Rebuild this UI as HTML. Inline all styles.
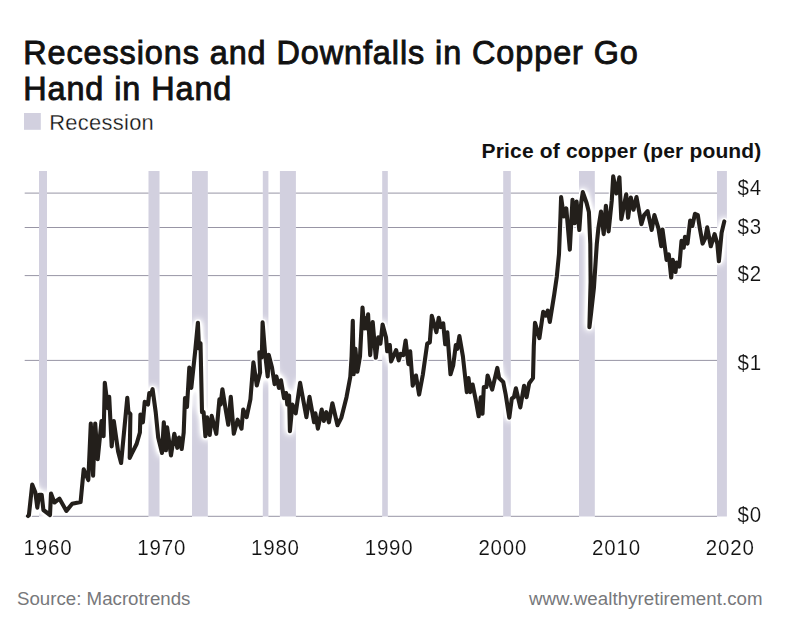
<!DOCTYPE html>
<html><head><meta charset="utf-8">
<style>
html,body{margin:0;padding:0;background:#fff;}
body{width:802px;height:628px;position:relative;overflow:hidden;font-family:"Liberation Sans",sans-serif;color:#111;}
.t{position:absolute;white-space:nowrap;line-height:1;}
svg{position:absolute;left:0;top:0;}
.ti{font-size:32.4px;font-weight:normal;-webkit-text-stroke:0.9px #111;letter-spacing:0.92px;}
.xl{font-size:20.5px;letter-spacing:0.8px;-webkit-text-stroke:0.15px #fff;transform:scaleY(1.05);transform-origin:0 84.65%;}
.yl{letter-spacing:0.7px;-webkit-text-stroke:0.15px #fff;transform:scaleY(1.05);transform-origin:0 84.65%;}
</style></head><body>
<svg width="802" height="628" viewBox="0 0 802 628">
<rect x="39" y="171" width="8.0" height="345.5" fill="#d2d0df"/>
<rect x="148.5" y="171" width="11.0" height="345.5" fill="#d2d0df"/>
<rect x="192" y="171" width="15.8" height="345.5" fill="#d2d0df"/>
<rect x="262.8" y="171" width="5.6" height="345.5" fill="#d2d0df"/>
<rect x="279.9" y="171" width="16.0" height="345.5" fill="#d2d0df"/>
<rect x="382.2" y="171" width="5.6" height="345.5" fill="#d2d0df"/>
<rect x="503.2" y="171" width="7.6" height="345.5" fill="#d2d0df"/>
<rect x="579" y="171" width="15.8" height="345.5" fill="#d2d0df"/>
<rect x="717" y="171" width="9.9" height="345.5" fill="#d2d0df"/>
<rect x="24" y="113" width="16.8" height="16.8" fill="#d2d0df"/>
<defs><filter id="glow" x="-5%" y="-5%" width="110%" height="110%" filterUnits="objectBoundingBox">
<feGaussianBlur stdDeviation="3.9"/>
<feComponentTransfer><feFuncA type="linear" slope="3.0" intercept="0"/></feComponentTransfer>
</filter></defs>
<path d="M28.0,516.0 L28.9,515.2 L32.2,484.6 L35.3,492.3 L37.3,507.6 L39.1,494.8 L41.7,494.8 L43.4,510.0 L50.0,515.0 L51.0,493.6 L54.4,502.5 L59.5,498.7 L66.4,510.9 L72.2,503.8 L80.6,502.0 L83.7,469.4 L88.3,480.0 L90.8,423.5 L93.1,475.7 L95.2,423.5 L97.7,459.2 L101.5,421.0 L103.6,436.2 L104.8,382.7 L107.9,408.2 L109.2,396.8 L111.7,446.4 L113.8,421.0 L118.1,451.5 L121.1,463.0 L127.3,397.8 L128.4,412.0 L130.4,414.0 L129.7,458.0 L131.5,454.1 L136.6,444.0 L139.9,432.5 L140.4,414.6 L142.9,422.3 L144.7,401.9 L148.0,404.5 L149.3,393.0 L151.1,394.3 L152.6,389.2 L155.7,412.1 L158.2,437.6 L162.0,452.9 L163.8,422.3 L165.9,450.3 L167.1,427.4 L171.0,455.4 L174.3,433.8 L177.3,447.8 L179.1,437.6 L181.7,449.0 L183.7,432.5 L185.0,398.1 L187.0,407.0 L189.3,367.5 L191.3,387.9 L195.2,351.0 L197.9,322.7 L199.0,348.4 L200.5,343.3 L202.0,412.1 L203.6,412.1 L205.4,436.3 L207.1,417.2 L209.7,435.0 L211.7,415.9 L216.3,433.8 L219.4,399.4 L220.6,404.5 L222.4,389.2 L225.7,409.6 L228.3,424.8 L230.8,396.8 L233.8,433.8 L237.6,419.7 L241.5,428.7 L243.2,409.6 L246.6,417.2 L250.4,399.4 L253.4,362.4 L256.8,385.4 L260.1,372.6 L259.3,352.2 L261.8,357.3 L262.6,322.4 L265.2,354.8 L267.7,376.4 L268.7,354.8 L272.0,367.5 L274.6,384.1 L276.4,376.4 L278.9,387.9 L281.0,380.3 L284.0,398.1 L286.1,393.0 L287.3,404.5 L289.1,395.5 L289.9,431.2 L292.4,404.5 L295.7,413.4 L300.1,382.8 L306.4,417.2 L309.5,396.8 L314.1,422.3 L315.4,413.4 L317.9,428.7 L321.7,409.6 L323.8,421.0 L326.3,412.1 L328.9,422.3 L332.4,403.2 L337.5,425.2 L341.4,417.6 L346.5,397.2 L350.3,376.8 L351.6,356.4 L352.8,320.8 L353.6,374.3 L355.4,348.8 L357.4,371.7 L360.0,356.4 L362.5,307.5 L364.3,328.4 L365.6,318.2 L366.8,328.4 L368.1,314.4 L370.2,355.2 L372.7,322.0 L375.8,357.7 L378.3,337.3 L380.4,343.7 L382.6,324.6 L386.0,337.3 L387.2,351.3 L389.8,345.0 L391.1,361.5 L396.1,350.1 L398.7,360.3 L400.7,353.9 L403.3,355.2 L405.6,340.6 L408.4,364.1 L410.2,351.3 L412.7,385.7 L416.0,375.5 L419.1,394.6 L422.9,374.3 L427.2,343.7 L429.8,342.4 L431.8,315.7 L436.4,332.2 L438.7,317.7 L440.7,327.1 L443.2,323.3 L445.2,344.3 L447.3,332.2 L450.5,374.3 L453.2,365.4 L455.8,345.0 L457.3,348.8 L459.4,336.1 L462.9,356.4 L466.8,392.1 L468.5,378.1 L470.1,392.1 L472.6,384.5 L475.7,399.7 L478.7,416.3 L480.8,397.2 L482.5,413.8 L483.8,387.0 L486.4,387.0 L487.6,375.5 L492.2,389.6 L497.3,367.9 L499.1,378.1 L503.2,381.9 L505.7,394.6 L509.3,417.6 L511.8,398.5 L513.9,397.2 L515.9,388.3 L520.3,407.4 L524.1,385.7 L526.6,397.2 L529.2,383.2 L533.0,378.1 L533.8,346.2 L535.0,322.8 L539.4,338.1 L543.2,311.8 L545.7,315.7 L547.8,310.6 L549.8,322.0 L554.2,294.6 L556.8,276.8 L559.0,254.0 L560.4,218.0 L561.1,197.0 L563.8,216.5 L566.3,208.4 L569.8,249.6 L572.5,199.7 L574.7,223.3 L576.6,201.6 L579.3,230.0 L581.2,202.9 L582.8,192.1 L586.6,203.0 L588.9,212.0 L590.3,244.0 L590.6,282.0 L589.4,327.3 L591.0,314.0 L593.9,288.0 L596.8,244.0 L598.4,228.0 L601.0,211.6 L603.7,234.1 L605.9,205.7 L608.6,231.4 L611.8,200.2 L613.2,176.4 L616.4,193.5 L619.4,177.2 L621.3,219.2 L626.2,194.3 L628.1,217.8 L630.8,197.5 L633.5,209.7 L636.5,197.0 L641.4,224.1 L644.1,215.1 L647.6,211.1 L651.7,230.0 L654.4,215.1 L658.5,228.7 L661.2,246.3 L662.5,229.5 L666.6,259.9 L668.8,254.4 L671.2,277.5 L672.8,259.9 L675.5,272.0 L676.6,262.6 L679.3,266.6 L681.5,240.9 L683.7,247.7 L685.0,236.8 L687.5,243.6 L690.2,220.6 L692.3,226.0 L695.0,213.8 L697.8,215.1 L699.9,228.7 L702.6,243.6 L705.3,238.2 L707.2,227.3 L710.8,246.3 L714.6,234.1 L717.3,243.6 L718.9,261.2 L721.6,232.8 L724.3,221.4" fill="none" stroke="#ffffff" stroke-width="5" stroke-linejoin="round" stroke-linecap="round" filter="url(#glow)"/>
<path d="M24.7,193.1H39.0 M47.0,193.1H148.5 M159.5,193.1H192.0 M207.8,193.1H262.8 M268.4,193.1H279.9 M295.9,193.1H382.2 M387.8,193.1H503.2 M510.8,193.1H579.0 M594.8,193.1H717.0" stroke="#9895a5" stroke-width="1" fill="none"/>
<path d="M24.7,227.5H39.0 M47.0,227.5H148.5 M159.5,227.5H192.0 M207.8,227.5H262.8 M268.4,227.5H279.9 M295.9,227.5H382.2 M387.8,227.5H503.2 M510.8,227.5H579.0 M594.8,227.5H717.0" stroke="#9895a5" stroke-width="1" fill="none"/>
<path d="M24.7,275.6H39.0 M47.0,275.6H148.5 M159.5,275.6H192.0 M207.8,275.6H262.8 M268.4,275.6H279.9 M295.9,275.6H382.2 M387.8,275.6H503.2 M510.8,275.6H579.0 M594.8,275.6H717.0" stroke="#9895a5" stroke-width="1" fill="none"/>
<path d="M24.7,360.4H39.0 M47.0,360.4H148.5 M159.5,360.4H192.0 M207.8,360.4H262.8 M268.4,360.4H279.9 M295.9,360.4H382.2 M387.8,360.4H503.2 M510.8,360.4H579.0 M594.8,360.4H717.0" stroke="#9895a5" stroke-width="1" fill="none"/>
<path d="M24.7,516.3H39.0 M47.0,516.3H148.5 M159.5,516.3H192.0 M207.8,516.3H262.8 M268.4,516.3H279.9 M295.9,516.3H382.2 M387.8,516.3H503.2 M510.8,516.3H579.0 M594.8,516.3H717.0" stroke="#9895a5" stroke-width="1" fill="none"/>

<path d="M28.0,516.0 L28.9,515.2 L32.2,484.6 L35.3,492.3 L37.3,507.6 L39.1,494.8 L41.7,494.8 L43.4,510.0 L50.0,515.0 L51.0,493.6 L54.4,502.5 L59.5,498.7 L66.4,510.9 L72.2,503.8 L80.6,502.0 L83.7,469.4 L88.3,480.0 L90.8,423.5 L93.1,475.7 L95.2,423.5 L97.7,459.2 L101.5,421.0 L103.6,436.2 L104.8,382.7 L107.9,408.2 L109.2,396.8 L111.7,446.4 L113.8,421.0 L118.1,451.5 L121.1,463.0 L127.3,397.8 L128.4,412.0 L130.4,414.0 L129.7,458.0 L131.5,454.1 L136.6,444.0 L139.9,432.5 L140.4,414.6 L142.9,422.3 L144.7,401.9 L148.0,404.5 L149.3,393.0 L151.1,394.3 L152.6,389.2 L155.7,412.1 L158.2,437.6 L162.0,452.9 L163.8,422.3 L165.9,450.3 L167.1,427.4 L171.0,455.4 L174.3,433.8 L177.3,447.8 L179.1,437.6 L181.7,449.0 L183.7,432.5 L185.0,398.1 L187.0,407.0 L189.3,367.5 L191.3,387.9 L195.2,351.0 L197.9,322.7 L199.0,348.4 L200.5,343.3 L202.0,412.1 L203.6,412.1 L205.4,436.3 L207.1,417.2 L209.7,435.0 L211.7,415.9 L216.3,433.8 L219.4,399.4 L220.6,404.5 L222.4,389.2 L225.7,409.6 L228.3,424.8 L230.8,396.8 L233.8,433.8 L237.6,419.7 L241.5,428.7 L243.2,409.6 L246.6,417.2 L250.4,399.4 L253.4,362.4 L256.8,385.4 L260.1,372.6 L259.3,352.2 L261.8,357.3 L262.6,322.4 L265.2,354.8 L267.7,376.4 L268.7,354.8 L272.0,367.5 L274.6,384.1 L276.4,376.4 L278.9,387.9 L281.0,380.3 L284.0,398.1 L286.1,393.0 L287.3,404.5 L289.1,395.5 L289.9,431.2 L292.4,404.5 L295.7,413.4 L300.1,382.8 L306.4,417.2 L309.5,396.8 L314.1,422.3 L315.4,413.4 L317.9,428.7 L321.7,409.6 L323.8,421.0 L326.3,412.1 L328.9,422.3 L332.4,403.2 L337.5,425.2 L341.4,417.6 L346.5,397.2 L350.3,376.8 L351.6,356.4 L352.8,320.8 L353.6,374.3 L355.4,348.8 L357.4,371.7 L360.0,356.4 L362.5,307.5 L364.3,328.4 L365.6,318.2 L366.8,328.4 L368.1,314.4 L370.2,355.2 L372.7,322.0 L375.8,357.7 L378.3,337.3 L380.4,343.7 L382.6,324.6 L386.0,337.3 L387.2,351.3 L389.8,345.0 L391.1,361.5 L396.1,350.1 L398.7,360.3 L400.7,353.9 L403.3,355.2 L405.6,340.6 L408.4,364.1 L410.2,351.3 L412.7,385.7 L416.0,375.5 L419.1,394.6 L422.9,374.3 L427.2,343.7 L429.8,342.4 L431.8,315.7 L436.4,332.2 L438.7,317.7 L440.7,327.1 L443.2,323.3 L445.2,344.3 L447.3,332.2 L450.5,374.3 L453.2,365.4 L455.8,345.0 L457.3,348.8 L459.4,336.1 L462.9,356.4 L466.8,392.1 L468.5,378.1 L470.1,392.1 L472.6,384.5 L475.7,399.7 L478.7,416.3 L480.8,397.2 L482.5,413.8 L483.8,387.0 L486.4,387.0 L487.6,375.5 L492.2,389.6 L497.3,367.9 L499.1,378.1 L503.2,381.9 L505.7,394.6 L509.3,417.6 L511.8,398.5 L513.9,397.2 L515.9,388.3 L520.3,407.4 L524.1,385.7 L526.6,397.2 L529.2,383.2 L533.0,378.1 L533.8,346.2 L535.0,322.8 L539.4,338.1 L543.2,311.8 L545.7,315.7 L547.8,310.6 L549.8,322.0 L554.2,294.6 L556.8,276.8 L559.0,254.0 L560.4,218.0 L561.1,197.0 L563.8,216.5 L566.3,208.4 L569.8,249.6 L572.5,199.7 L574.7,223.3 L576.6,201.6 L579.3,230.0 L581.2,202.9 L582.8,192.1 L586.6,203.0 L588.9,212.0 L590.3,244.0 L590.6,282.0 L589.4,327.3 L591.0,314.0 L593.9,288.0 L596.8,244.0 L598.4,228.0 L601.0,211.6 L603.7,234.1 L605.9,205.7 L608.6,231.4 L611.8,200.2 L613.2,176.4 L616.4,193.5 L619.4,177.2 L621.3,219.2 L626.2,194.3 L628.1,217.8 L630.8,197.5 L633.5,209.7 L636.5,197.0 L641.4,224.1 L644.1,215.1 L647.6,211.1 L651.7,230.0 L654.4,215.1 L658.5,228.7 L661.2,246.3 L662.5,229.5 L666.6,259.9 L668.8,254.4 L671.2,277.5 L672.8,259.9 L675.5,272.0 L676.6,262.6 L679.3,266.6 L681.5,240.9 L683.7,247.7 L685.0,236.8 L687.5,243.6 L690.2,220.6 L692.3,226.0 L695.0,213.8 L697.8,215.1 L699.9,228.7 L702.6,243.6 L705.3,238.2 L707.2,227.3 L710.8,246.3 L714.6,234.1 L717.3,243.6 L718.9,261.2 L721.6,232.8 L724.3,221.4" fill="none" stroke="#ffffff" stroke-width="6.9" stroke-linejoin="round" stroke-linecap="round" opacity="0.85"/>
<path d="M28.0,516.0 L28.9,515.2 L32.2,484.6 L35.3,492.3 L37.3,507.6 L39.1,494.8 L41.7,494.8 L43.4,510.0 L50.0,515.0 L51.0,493.6 L54.4,502.5 L59.5,498.7 L66.4,510.9 L72.2,503.8 L80.6,502.0 L83.7,469.4 L88.3,480.0 L90.8,423.5 L93.1,475.7 L95.2,423.5 L97.7,459.2 L101.5,421.0 L103.6,436.2 L104.8,382.7 L107.9,408.2 L109.2,396.8 L111.7,446.4 L113.8,421.0 L118.1,451.5 L121.1,463.0 L127.3,397.8 L128.4,412.0 L130.4,414.0 L129.7,458.0 L131.5,454.1 L136.6,444.0 L139.9,432.5 L140.4,414.6 L142.9,422.3 L144.7,401.9 L148.0,404.5 L149.3,393.0 L151.1,394.3 L152.6,389.2 L155.7,412.1 L158.2,437.6 L162.0,452.9 L163.8,422.3 L165.9,450.3 L167.1,427.4 L171.0,455.4 L174.3,433.8 L177.3,447.8 L179.1,437.6 L181.7,449.0 L183.7,432.5 L185.0,398.1 L187.0,407.0 L189.3,367.5 L191.3,387.9 L195.2,351.0 L197.9,322.7 L199.0,348.4 L200.5,343.3 L202.0,412.1 L203.6,412.1 L205.4,436.3 L207.1,417.2 L209.7,435.0 L211.7,415.9 L216.3,433.8 L219.4,399.4 L220.6,404.5 L222.4,389.2 L225.7,409.6 L228.3,424.8 L230.8,396.8 L233.8,433.8 L237.6,419.7 L241.5,428.7 L243.2,409.6 L246.6,417.2 L250.4,399.4 L253.4,362.4 L256.8,385.4 L260.1,372.6 L259.3,352.2 L261.8,357.3 L262.6,322.4 L265.2,354.8 L267.7,376.4 L268.7,354.8 L272.0,367.5 L274.6,384.1 L276.4,376.4 L278.9,387.9 L281.0,380.3 L284.0,398.1 L286.1,393.0 L287.3,404.5 L289.1,395.5 L289.9,431.2 L292.4,404.5 L295.7,413.4 L300.1,382.8 L306.4,417.2 L309.5,396.8 L314.1,422.3 L315.4,413.4 L317.9,428.7 L321.7,409.6 L323.8,421.0 L326.3,412.1 L328.9,422.3 L332.4,403.2 L337.5,425.2 L341.4,417.6 L346.5,397.2 L350.3,376.8 L351.6,356.4 L352.8,320.8 L353.6,374.3 L355.4,348.8 L357.4,371.7 L360.0,356.4 L362.5,307.5 L364.3,328.4 L365.6,318.2 L366.8,328.4 L368.1,314.4 L370.2,355.2 L372.7,322.0 L375.8,357.7 L378.3,337.3 L380.4,343.7 L382.6,324.6 L386.0,337.3 L387.2,351.3 L389.8,345.0 L391.1,361.5 L396.1,350.1 L398.7,360.3 L400.7,353.9 L403.3,355.2 L405.6,340.6 L408.4,364.1 L410.2,351.3 L412.7,385.7 L416.0,375.5 L419.1,394.6 L422.9,374.3 L427.2,343.7 L429.8,342.4 L431.8,315.7 L436.4,332.2 L438.7,317.7 L440.7,327.1 L443.2,323.3 L445.2,344.3 L447.3,332.2 L450.5,374.3 L453.2,365.4 L455.8,345.0 L457.3,348.8 L459.4,336.1 L462.9,356.4 L466.8,392.1 L468.5,378.1 L470.1,392.1 L472.6,384.5 L475.7,399.7 L478.7,416.3 L480.8,397.2 L482.5,413.8 L483.8,387.0 L486.4,387.0 L487.6,375.5 L492.2,389.6 L497.3,367.9 L499.1,378.1 L503.2,381.9 L505.7,394.6 L509.3,417.6 L511.8,398.5 L513.9,397.2 L515.9,388.3 L520.3,407.4 L524.1,385.7 L526.6,397.2 L529.2,383.2 L533.0,378.1 L533.8,346.2 L535.0,322.8 L539.4,338.1 L543.2,311.8 L545.7,315.7 L547.8,310.6 L549.8,322.0 L554.2,294.6 L556.8,276.8 L559.0,254.0 L560.4,218.0 L561.1,197.0 L563.8,216.5 L566.3,208.4 L569.8,249.6 L572.5,199.7 L574.7,223.3 L576.6,201.6 L579.3,230.0 L581.2,202.9 L582.8,192.1 L586.6,203.0 L588.9,212.0 L590.3,244.0 L590.6,282.0 L589.4,327.3 L591.0,314.0 L593.9,288.0 L596.8,244.0 L598.4,228.0 L601.0,211.6 L603.7,234.1 L605.9,205.7 L608.6,231.4 L611.8,200.2 L613.2,176.4 L616.4,193.5 L619.4,177.2 L621.3,219.2 L626.2,194.3 L628.1,217.8 L630.8,197.5 L633.5,209.7 L636.5,197.0 L641.4,224.1 L644.1,215.1 L647.6,211.1 L651.7,230.0 L654.4,215.1 L658.5,228.7 L661.2,246.3 L662.5,229.5 L666.6,259.9 L668.8,254.4 L671.2,277.5 L672.8,259.9 L675.5,272.0 L676.6,262.6 L679.3,266.6 L681.5,240.9 L683.7,247.7 L685.0,236.8 L687.5,243.6 L690.2,220.6 L692.3,226.0 L695.0,213.8 L697.8,215.1 L699.9,228.7 L702.6,243.6 L705.3,238.2 L707.2,227.3 L710.8,246.3 L714.6,234.1 L717.3,243.6 L718.9,261.2 L721.6,232.8 L724.3,221.4" fill="none" stroke="#231f1b" stroke-width="4.1" stroke-linejoin="round" stroke-linecap="round"/>
</svg>
<div class="t ti" id="t1" style="left:23.2px;top:37.3px;">Recessions and Downfalls in Copper Go</div>
<div class="t ti" id="t2" style="left:23.2px;top:72.7px;">Hand in Hand</div>
<div class="t" id="lg" style="left:49.2px;top:112.0px;-webkit-text-stroke:0.28px #fff;font-size:21.9px;letter-spacing:0.3px;">Recession</div>
<div class="t" id="pr" style="left:481.6px;top:139.7px;font-size:21px;font-weight:bold;letter-spacing:0.17px;">Price of copper (per pound)</div>
<div class="t yl" id="y4" style="left:737.6px;top:177.75px;font-size:20.5px;">$4</div>
<div class="t yl" id="y3" style="left:737.6px;top:217.05px;font-size:20.5px;">$3</div>
<div class="t yl" id="y2" style="left:737.6px;top:263.85px;font-size:20.5px;">$2</div>
<div class="t yl" id="y1" style="left:737.6px;top:352.65px;font-size:20.5px;">$1</div>
<div class="t yl" id="y0" style="left:737.6px;top:505.05px;font-size:20.5px;">$0</div>
<div class="t xl" id="x0" style="left:23.6px;top:537.85px;">1960</div>
<div class="t xl" id="x1" style="left:137.3px;top:537.85px;">1970</div>
<div class="t xl" id="x2" style="left:251.0px;top:537.85px;">1980</div>
<div class="t xl" id="x3" style="left:364.7px;top:537.85px;">1990</div>
<div class="t xl" id="x4" style="left:478.4px;top:537.85px;">2000</div>
<div class="t xl" id="x5" style="left:592.1px;top:537.85px;">2010</div>
<div class="t xl" id="x6" style="left:705.8px;top:537.85px;">2020</div>
<div class="t" id="src" style="left:17px;top:589.9px;font-size:18.7px;color:#77787b;">Source: Macrotrends</div>
<div class="t" id="www" style="left:529px;top:589.9px;font-size:18.7px;letter-spacing:0.04px;color:#77787b;">www.wealthyretirement.com</div>
</body></html>
